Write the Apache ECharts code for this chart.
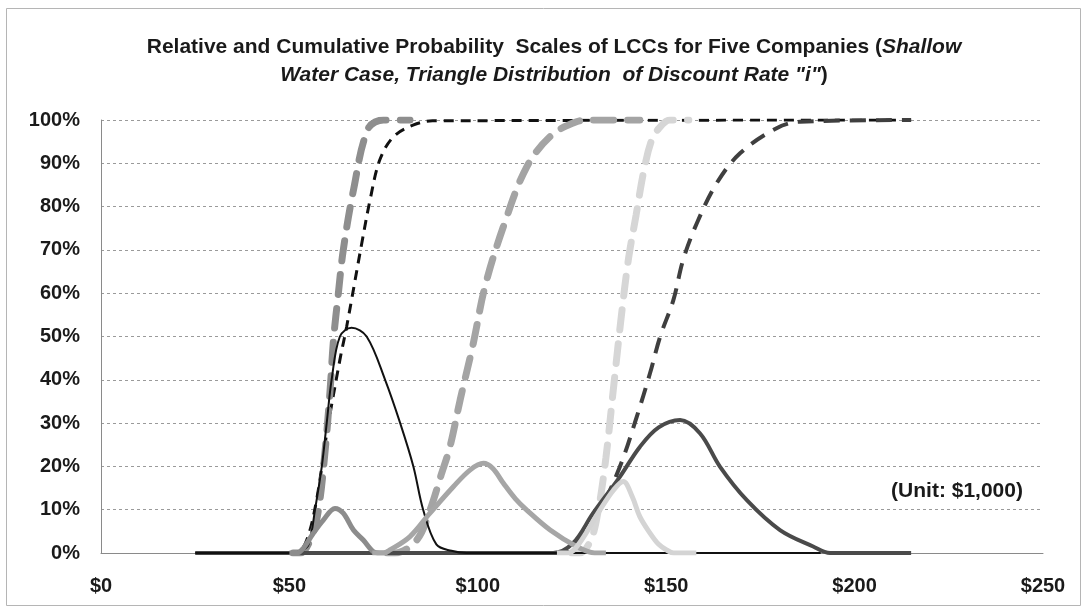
<!DOCTYPE html>
<html>
<head>
<meta charset="utf-8">
<script src="https://cdn.jsdelivr.net/npm/echarts@6/dist/echarts.min.js"></script>
<style>
html,body{margin:0;padding:0;background:#fff;}
#chart{width:1086px;height:613px;}
</style>
</head>
<body>
<div id="chart"></div>
<script>
// X axis ticks ($1,000)
const xTicks = [0, 50, 100, 150, 200, 250];
const yTicks = [0, 10, 20, 30, 40, 50, 60, 70, 80, 90, 100];

// Company A (black) relative probability
const aPdfX = [25, 50, 53, 55.1, 56.8, 58.6, 59.9, 61.2, 63.4, 66.5, 70.5, 75.4, 79.4, 82.9, 85.5, 89, 93, 97, 191];
const aPdfY = [0, 0, 0.5, 2, 10, 20, 30, 40, 50, 52, 50, 40, 30, 20, 10, 2, 0.5, 0, 0];
// Company A cumulative
const aCdfX = [50, 52, 54.6, 57.2, 59.9, 63.4, 65.2, 69.2, 71.4, 74, 77.6, 82.8, 88, 215];
const aCdfY = [0, 0, 3, 12.2, 27.6, 44.6, 52.3, 71.5, 81.5, 90.8, 96.1, 98.8, 99.8, 100];

// Company B (mid gray)
const bPdfX = [50, 52, 53.7, 56.3, 59, 62.1, 64.3, 67, 69.6, 72.3, 74, 76];
const bPdfY = [0, 0, 1.1, 4.5, 7.6, 10.3, 9.2, 5.3, 3, 0.3, 0, 0];
const bCdfX = [51, 53, 55.9, 57.7, 59.5, 60.8, 61.7, 63, 64.3, 67, 70.9, 75, 82];
const bCdfY = [0, 0, 3.8, 9.9, 23.8, 37.6, 49.2, 60, 70, 83.8, 98, 100, 100];

// Company C (gray)
const cPdfX = [72, 75, 76.7, 82, 87.3, 93.5, 98, 101.5, 104, 106.8, 110, 113, 119.2, 126.2, 131, 134];
const cPdfY = [0, 0, 0.7, 3.8, 9.2, 15.3, 19.2, 20.7, 19.5, 16.1, 12.5, 9.9, 5.3, 1.5, 0, 0];
const cCdfX = [76, 78, 83.8, 87.3, 90.4, 92.6, 95.3, 98.8, 101.9, 106.8, 113, 119.6, 126.2, 130, 143];
const cCdfY = [0, 0, 3, 9.9, 18.4, 24.5, 35.3, 48.4, 61.5, 75.4, 89.2, 96.5, 99.6, 100, 100];

// Company D (light gray)
const dPdfX = [121, 124, 127, 132.4, 136, 138.6, 141, 143, 145.7, 148, 150.1, 152, 158];
const dPdfY = [0, 0, 2.3, 9.9, 14.5, 16.5, 13, 8.4, 4.6, 2, 0.7, 0, 0];
const dCdfX = [125, 127, 130, 132, 134, 136, 138, 140, 142, 144, 146, 148, 151, 156];
const dCdfY = [0, 0, 3, 10, 22, 38, 54, 68, 78, 88, 95, 98, 100, 100];

// Company E (dark gray)
const ePdfX = [25, 120, 125.3, 130.6, 137.7, 143, 148, 153.7, 159, 164.3, 171.4, 180.2, 189, 193.5, 215];
const ePdfY = [0, 0, 2.3, 9.2, 17.6, 24.5, 29, 30.7, 27.6, 19.9, 12.2, 5.3, 1.5, 0, 0];
const eCdfX = [120, 122, 126.2, 132.4, 137.7, 142.2, 145.7, 148.4, 151.9, 154.5, 158.1, 163.4, 169.6, 179.3, 185.5, 215];
const eCdfY = [0, 0, 2.3, 9.9, 19.9, 31.5, 41.5, 50, 58.4, 67.7, 76.1, 85.4, 92.3, 98.1, 99.6, 100];

const titleLine1a = 'Relative and Cumulative Probability  Scales of LCCs for Five Companies (';
const titleLine1b = 'Shallow';
const titleLine2a = 'Water Case, Triangle Distribution  of Discount Rate "i"';
const titleLine2b = ')';
const unitLabel = '(Unit: $1,000)';

const zip = (xs, ys) => xs.map((x, i) => [x, ys[i]]);
const FONT = "'Liberation Sans', sans-serif";

function line(name, xs, ys, color, width, type, cap) {
  return {
    name, type: 'line', data: zip(xs, ys), showSymbol: false, symbol: 'none',
    smooth: 0.35,
    lineStyle: { color, width, type, cap: cap || 'butt' },
    animation: false
  };
}

const chart = echarts.init(document.getElementById('chart'));
chart.setOption({
  animation: false,
  backgroundColor: '#fff',
  grid: { left: 101, right: 43, top: 120, bottom: 60 },
  xAxis: {
    type: 'value', min: 0, max: 250, interval: 50,
    axisLine: { show: true, lineStyle: { color: '#8a8a8a', width: 1 } },
    axisTick: { show: false },
    splitLine: { show: false },
    axisLabel: {
      margin: 23, color: '#1a1a1a', fontWeight: 'bold', fontSize: 20, fontFamily: FONT,
      formatter: v => '$' + v
    }
  },
  yAxis: {
    type: 'value', min: 0, max: 100, interval: 10,
    axisLine: { show: true, lineStyle: { color: '#8a8a8a', width: 1 } },
    axisTick: { show: false },
    splitLine: { show: true, lineStyle: { color: '#9a9a9a', width: 1, type: [3, 3] } },
    axisLabel: {
      margin: 21, color: '#1a1a1a', fontWeight: 'bold', fontSize: 20, fontFamily: FONT,
      formatter: v => v + '%'
    }
  },
  graphic: [
    { type: 'rect', shape: { x: 6.5, y: 8.5, width: 1074, height: 597 },
      style: { fill: 'none', stroke: '#b5b5b5', lineWidth: 1 }, silent: true },
    { type: 'text', x: 554, y: 47,
      style: { text: '{b|' + titleLine1a + '}{i|' + titleLine1b + '}', align: 'center', verticalAlign: 'middle',
        rich: { b: { fontFamily: FONT, fontWeight: 'bold', fontSize: 21, fill: '#1a1a1a' },
                i: { fontFamily: FONT, fontWeight: 'bold', fontStyle: 'italic', fontSize: 21, fill: '#1a1a1a' } } } },
    { type: 'text', x: 554, y: 75,
      style: { text: '{i|' + titleLine2a + '}{b|' + titleLine2b + '}', align: 'center', verticalAlign: 'middle',
        rich: { b: { fontFamily: FONT, fontWeight: 'bold', fontSize: 21, fill: '#1a1a1a' },
                i: { fontFamily: FONT, fontWeight: 'bold', fontStyle: 'italic', fontSize: 21, fill: '#1a1a1a' } } } },
    { type: 'text', x: 957, y: 491,
      style: { text: unitLabel, align: 'center', verticalAlign: 'middle',
        fontFamily: FONT, fontWeight: 'bold', fontSize: 21, fill: '#1a1a1a' } }
  ],
  series: [
    line('A cumulative', aCdfX, aCdfY, '#111111', 3, [10, 7], 'butt'),
    line('E cumulative', eCdfX, eCdfY, '#3f3f3f', 4, [16, 10], 'butt'),
    line('C cumulative', cCdfX, cCdfY, '#a4a4a4', 7, [20, 14], 'round'),
    line('D cumulative', dCdfX, dCdfY, '#d6d6d6', 7, [20, 14], 'round'),
    line('B cumulative', bCdfX, bCdfY, '#8e8e8e', 7, [20, 14], 'round'),
    line('E relative', ePdfX, ePdfY, '#4a4a4a', 4, 'solid'),
    line('A relative', aPdfX, aPdfY, '#111111', 2, 'solid'),
    line('B relative', bPdfX, bPdfY, '#8c8c8c', 5, 'solid'),
    line('C relative', cPdfX, cPdfY, '#a6a6a6', 5, 'solid'),
    line('D relative', dPdfX, dPdfY, '#d4d4d4', 5, 'solid')
  ]
});
</script>
</body>
</html>
